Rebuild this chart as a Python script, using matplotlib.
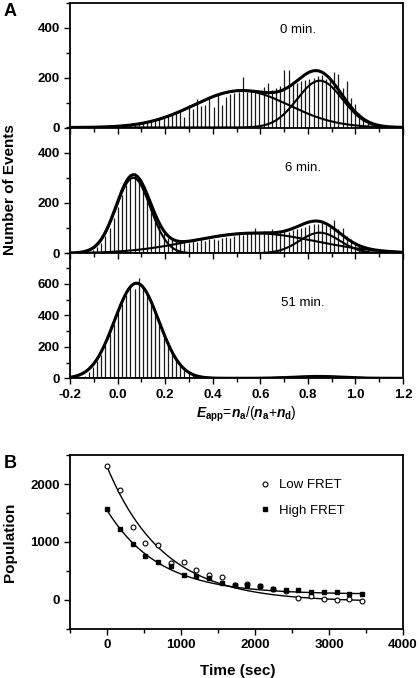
import numpy as np
import matplotlib.pyplot as plt
from matplotlib.ticker import MultipleLocator

plt.rcParams['font.family'] = ['Liberation Sans', 'DejaVu Sans']
plt.rcParams['mathtext.fontset'] = 'custom'
plt.rcParams['mathtext.it'] = 'Liberation Sans:italic:bold'
plt.rcParams['mathtext.rm'] = 'Liberation Sans:bold'
plt.rcParams['mathtext.bf'] = 'Liberation Sans:bold'

# --- Panel A: FRET efficiency histograms (80 bins from -0.2 to 1.2) ---
bin_start = -0.2
bin_width = 0.0175

counts_0min = [0, 0, 0, 0, 0, 0,
               1, 2, 2, 3, 4, 5, 6, 8, 10, 12,
               15, 18, 21, 25, 30, 34, 40, 46, 52, 58,
               72, 43, 92, 76, 116, 87, 90, 122, 83, 129,
               92, 122, 135, 138, 142, 201, 142, 145, 148, 140,
               162, 178, 150, 160, 165, 230, 230, 175, 180, 188,
               190, 195, 200, 205, 210, 195, 190, 221, 215, 160,
               188, 120, 95, 60, 35, 20, 10, 5, 0, 0,
               0, 0, 0, 0]
counts_6min = [0, 0, 0, 3, 8, 14, 25, 42, 68, 100,
               140, 185, 230, 270, 300, 318, 295, 268, 225, 180,
               140, 125, 80, 62, 55, 48, 42, 45, 40, 50,
               44, 52, 48, 55, 58, 52, 62, 66, 60, 70,
               75, 72, 80, 82, 100, 84, 88, 80, 98, 86,
               84, 90, 85, 92, 95, 100, 105, 112, 118, 115,
               120, 112, 108, 132, 95, 100, 70, 58, 45, 32,
               22, 14, 9, 5, 3, 0, 0, 0, 0, 0]
counts_51min = [0, 0, 5, 15, 40, 70, 110, 150, 210, 280,
                345, 420, 470, 530, 575, 570, 640, 590, 545, 480,
                430, 350, 290, 230, 170, 130, 90, 65, 45, 30,
                20, 12, 8, 5, 0, 0, 0, 0, 0, 0,
                0, 0, 0, 0, 0, 0, 0, 0, 0, 0,
                0, 0, 0, 0, 3, 5, 8, 10, 12, 14,
                14, 12, 10, 8, 5, 3, 0, 0, 0, 0,
                0, 0, 0, 0, 0, 0, 0, 0, 0, 0]

# Gaussian fit parameters (amplitude, centre, sigma) for each component
amps_0min = [148, 188]
cents_0min = [0.52, 0.85]
sigs_0min = [0.20, 0.095]

amps_6min = [300, 80, 82]
cents_6min = [0.066, 0.57, 0.85]
sigs_6min = [0.072, 0.26, 0.085]

amps_51min = [605, 12]
cents_51min = [0.08, 0.84]
sigs_51min = [0.093, 0.10]

time_labels = ['0 min.', '6 min.', '51 min.']
ymax_list = [500, 500, 800]
yticks_list = [[0, 200, 400], [0, 200, 400], [0, 200, 400, 600]]

# --- Panel B: populations vs time ---
time_sec = [0, 172, 345, 517, 690, 862, 1035, 1207, 1380, 1552, 1725,
            1897, 2070, 2242, 2415, 2587, 2760, 2932, 3105, 3277, 3450]
low_fret = [2305, 1902, 1264, 977, 948, 632, 649, 520, 431, 402, 260,
            276, 241, 190, 150, 34, 63, 11, 6, 17, -11]
high_fret = [1569, 1224, 966, 759, 655, 586, 425, 420, 385, 293, 259,
             253, 247, 190, 172, 172, 138, 132, 144, 103, 109]
# single exponential fits: A*exp(-t/tau) + c
low_fit = (2330, 760, -30)
high_fit = (1450, 700, 100)

fig = plt.figure(figsize=(4.19, 6.78), dpi=100)

W, H = 419, 678
left, right = 70, 403
panel_px = [(3, 127.5), (127.5, 253.3), (252.5, 378.3)]

all_counts = [counts_0min, counts_6min, counts_51min]
all_fits = [(amps_0min, cents_0min, sigs_0min),
            (amps_6min, cents_6min, sigs_6min),
            (amps_51min, cents_51min, sigs_51min)]
label_pos = [(0.76, 390), (0.78, 338), (0.78, 480)]

xs = np.linspace(-0.2, 1.2, 500)
for i, (top, bot) in enumerate(panel_px):
    ax = fig.add_axes([left / W, 1 - bot / H, (right - left) / W, (bot - top) / H])
    counts = np.array(all_counts[i])
    centers = bin_start + bin_width * (np.arange(len(counts)) + 0.5)
    ax.vlines(centers, 0, counts, color='#1a1a1a', lw=0.9)

    amps, cents, sigs = all_fits[i]
    total = np.zeros_like(xs)
    for a, c, s in zip(amps, cents, sigs):
        comp = a * np.exp(-(xs - c) ** 2 / (2 * s ** 2))
        total += comp
        ax.plot(xs, comp, color='black', lw=1.5)
    ax.plot(xs, total, color='black', lw=2.2)

    ax.set_xlim(-0.2, 1.2)
    ax.set_ylim(0, ymax_list[i])
    ax.xaxis.set_major_locator(MultipleLocator(0.2))
    ax.xaxis.set_minor_locator(MultipleLocator(0.1))
    ax.set_yticks(yticks_list[i])
    ax.set_yticklabels([str(v) for v in yticks_list[i]], fontweight='bold')
    ax.yaxis.set_minor_locator(MultipleLocator(100))
    ax.tick_params(which='both', direction='out', width=1, labelsize=9.5)
    ax.tick_params(which='major', length=4)
    ax.tick_params(which='minor', length=3)
    if i < 2:
        ax.tick_params(axis='x', labelbottom=False)
    else:
        ax.set_xticks(np.arange(-0.2, 1.21, 0.2))
        ax.set_xticklabels(['-0.2', '0.0', '0.2', '0.4', '0.6', '0.8', '1.0', '1.2'],
                           fontweight='bold')
    for sp in ax.spines.values():
        sp.set_linewidth(1.3)
    if i > 0:
        ax.spines['top'].set_visible(False)
    ax.patch.set_alpha(0)
    tx, ty = label_pos[i]
    ax.text(tx, ty, time_labels[i], ha='center', va='center', fontsize=9.5)

fig.text(0.025, 1 - 190 / H, 'Number of Events', rotation=90, ha='center',
         va='center', fontsize=11, fontweight='bold')
fig.text(246 / W, 1 - 414 / H, r'$E_{\mathrm{app}}$=$n_{\mathrm{a}}$/($n_{\mathrm{a}}$+$n_{\mathrm{d}}$)',
         ha='center', va='center', fontsize=10)
fig.text(0.008, 1 - 12 / H, 'A', fontsize=13, fontweight='bold', ha='left', va='center')

# Panel B
axb = fig.add_axes([left / W, 1 - 629 / H, (right - left) / W, (629 - 455) / H])
tt = np.linspace(0, 3450, 300)
a, tau, c = low_fit
axb.plot(tt, a * np.exp(-tt / tau) + c, color='black', lw=1.0)
a, tau, c = high_fit
axb.plot(tt, a * np.exp(-tt / tau) + c, color='black', lw=1.0)
axb.plot(time_sec, low_fret, 'o', mfc='white', mec='black', ms=3.5, mew=0.8,
         label='Low FRET')
axb.plot(time_sec, high_fret, 's', mfc='black', mec='black', ms=3.5,
         label='High FRET')
axb.set_xlim(-500, 4000)
axb.set_ylim(-500, 2500)
axb.xaxis.set_minor_locator(MultipleLocator(500))
axb.yaxis.set_minor_locator(MultipleLocator(500))
axb.set_xticks([0, 1000, 2000, 3000, 4000])
axb.set_xticklabels(['0', '1000', '2000', '3000', '4000'], fontweight='bold')
axb.set_yticks([0, 1000, 2000])
axb.set_yticklabels(['0', '1000', '2000'], fontweight='bold')
axb.tick_params(which='both', direction='out', width=1, labelsize=9.5)
axb.tick_params(which='major', length=4)
axb.tick_params(which='minor', length=3)
for sp in axb.spines.values():
    sp.set_linewidth(1.3)
axb.legend(loc='upper left', bbox_to_anchor=(0.53, 0.93), frameon=False,
           fontsize=9.5, handlelength=1.0, handletextpad=0.6, labelspacing=1.0)

fig.text(0.025, 1 - 542 / H, 'Population', rotation=90, ha='center',
         va='center', fontsize=11, fontweight='bold')
fig.text(238 / W, 1 - 671 / H, 'Time (sec)', ha='center', va='center',
         fontsize=11, fontweight='bold')
fig.text(0.008, 1 - 463 / H, 'B', fontsize=13, fontweight='bold', ha='left', va='center')

fig.savefig('out.png', dpi=100)
